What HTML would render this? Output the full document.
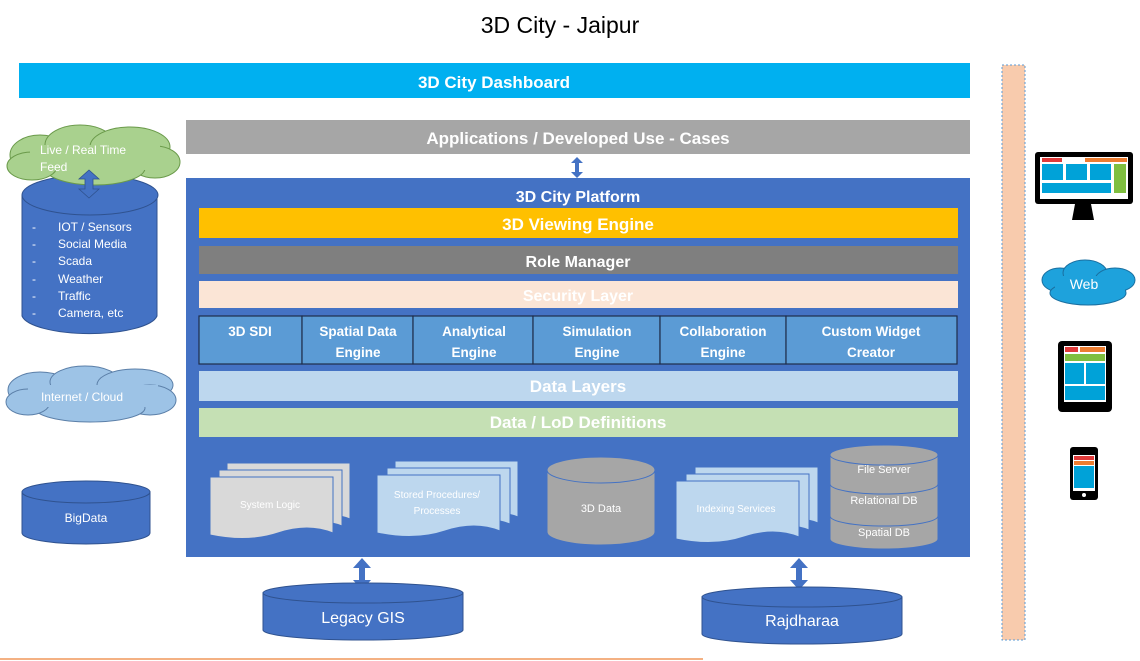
<!DOCTYPE html>
<html><head><meta charset="utf-8"><style>
html,body{margin:0;padding:0;background:#fff;width:1140px;height:661px;overflow:hidden}
svg{display:block;font-family:"Liberation Sans",sans-serif}
.b{font-weight:bold;fill:#fff}
.w{fill:#fff}
</style></head><body>
<svg width="1140" height="661" viewBox="0 0 1140 661">
<text x="560" y="33" text-anchor="middle" font-size="23" fill="#000">3D City - Jaipur</text>

<rect x="19" y="63" width="951" height="35" fill="#00b0f0"/>
<text x="494" y="88" text-anchor="middle" font-size="17" class="b">3D City Dashboard</text>

<rect x="186" y="120" width="784" height="34" fill="#a6a6a6"/>
<text x="578" y="144" text-anchor="middle" font-size="17" class="b">Applications / Developed Use - Cases</text>

<path d="M577,157l6,6h-4v9h4l-6,6l-6,-6h4v-9h-4z" fill="#4472c4"/>

<rect x="186" y="178" width="784" height="379" fill="#4472c4"/>
<text x="578" y="202" text-anchor="middle" font-size="16" class="b">3D City Platform</text>
<rect x="199" y="208" width="759" height="30" fill="#ffc000"/>
<text x="578" y="230" text-anchor="middle" font-size="17" class="b">3D Viewing Engine</text>
<rect x="199" y="246" width="759" height="28" fill="#7f7f7f"/>
<text x="578" y="267" text-anchor="middle" font-size="16" class="b">Role Manager</text>
<rect x="199" y="281" width="759" height="27" fill="#fbe5d6"/>
<text x="578" y="301" text-anchor="middle" font-size="16" class="b">Security Layer</text>

<g stroke="#1f2d4a" stroke-width="1.2" fill="#5b9bd5">
<rect x="199" y="316" width="103" height="48"/>
<rect x="302" y="316" width="111" height="48"/>
<rect x="413" y="316" width="120" height="48"/>
<rect x="533" y="316" width="127" height="48"/>
<rect x="660" y="316" width="126" height="48"/>
<rect x="786" y="316" width="171" height="48"/>
</g>
<g font-size="13.5" class="b" text-anchor="middle">
<text x="250" y="336">3D SDI</text>
<text x="358" y="336">Spatial Data</text><text x="358" y="357">Engine</text>
<text x="474" y="336">Analytical</text><text x="474" y="357">Engine</text>
<text x="597" y="336">Simulation</text><text x="597" y="357">Engine</text>
<text x="723" y="336">Collaboration</text><text x="723" y="357">Engine</text>
<text x="871" y="336">Custom Widget</text><text x="871" y="357">Creator</text>
</g>
<rect x="199" y="371" width="759" height="30" fill="#bdd7ee"/>
<text x="578" y="392" text-anchor="middle" font-size="17" class="b">Data Layers</text>
<rect x="199" y="408" width="759" height="29" fill="#c5e0b4"/>
<text x="578" y="428" text-anchor="middle" font-size="17" class="b">Data / LoD Definitions</text>

<g stroke="#4472c4" stroke-width="1">
<g fill="#d9d9d9">
<path d="M227,463h123v56q-20,-8 -40,0t-83,0z"/>
<path d="M219,470h123v56q-20,-8 -40,0t-83,0z"/>
<path d="M210,477h123v56q-25,-10 -55,0t-68,2z"/>
</g>
<g fill="#bdd7ee">
<path d="M395,461h123v56q-20,-8 -40,0t-83,0z"/>
<path d="M387,468h123v56q-20,-8 -40,0t-83,0z"/>
<path d="M377,475h123v56q-25,-10 -55,0t-68,2z"/>
</g>
<g fill="#bdd7ee">
<path d="M695,467h123v56q-20,-8 -40,0t-83,0z"/>
<path d="M686,474h123v56q-20,-8 -40,0t-83,0z"/>
<path d="M676,481h123v56q-25,-10 -55,0t-68,2z"/>
</g>
</g>
<g font-size="10" class="w" text-anchor="middle">
<text x="270" y="508">System Logic</text>
<text x="437" y="498">Stored Procedures/</text><text x="437" y="514">Processes</text>
<text x="736" y="512">Indexing Services</text>
</g>

<g stroke="#4472c4" stroke-width="1">
<path d="M547,470v62a54,13 0 0 0 108,0v-62z" fill="#a6a6a6"/>
<ellipse cx="601" cy="470" rx="54" ry="13" fill="#a6a6a6"/>
</g>
<text x="601" y="512" text-anchor="middle" font-size="11" class="w">3D Data</text>

<g stroke="#4472c4" stroke-width="1" fill="#a6a6a6">
<path d="M830,516v23a54,10 0 0 0 108,0v-23z"/>
<path d="M830,484v32a54,10 0 0 0 108,0v-32z"/>
<path d="M830,455v29a54,10 0 0 0 108,0v-29z"/>
<ellipse cx="884" cy="455" rx="54" ry="10"/>
</g>
<g font-size="11" class="w" text-anchor="middle">
<text x="884" y="473">File Server</text>
<text x="884" y="504">Relational DB</text>
<text x="884" y="536">Spatial DB</text>
</g>

<path d="M362,558l9,10h-6v12h6l-9,10l-9,-10h6v-12h-6z" fill="#4472c4"/>
<path d="M799,558l9,10h-6v12h6l-9,10l-9,-10h6v-12h-6z" fill="#4472c4"/>
<g stroke="#2f528f" stroke-width="1" fill="#4472c4">
<path d="M263,593v37a100,10 0 0 0 200,0v-37z"/>
<ellipse cx="363" cy="593" rx="100" ry="10"/>
<path d="M702,597v37a100,10 0 0 0 200,0v-37z"/>
<ellipse cx="802" cy="597" rx="100" ry="10"/>
</g>
<text x="363" y="623" text-anchor="middle" font-size="16" class="w">Legacy GIS</text>
<text x="802" y="626" text-anchor="middle" font-size="16" class="w">Rajdharaa</text>
<rect x="0" y="658" width="703" height="2" fill="#f4b183"/>

<g stroke="#2f528f" stroke-width="1" fill="#4472c4">
<path d="M22,195v121a68,20 0 0 0 135,0v-121z"/>
<ellipse cx="90" cy="195" rx="68" ry="20"/>
<path d="M22,492v41a64,11 0 0 0 128,0v-41z"/>
<ellipse cx="86" cy="492" rx="64" ry="11"/>
</g>
<g fill="#a9d18e" stroke="#6a9a4a" stroke-width="1">
<ellipse cx="40" cy="155" rx="30" ry="20"/>
<ellipse cx="80" cy="145" rx="35" ry="20"/>
<ellipse cx="130" cy="147" rx="40" ry="20"/>
<ellipse cx="155" cy="162" rx="25" ry="16"/>
<ellipse cx="95" cy="168" rx="50" ry="17"/>
<ellipse cx="32" cy="166" rx="25" ry="14"/>
</g>
<rect x="30" y="145" width="130" height="25" fill="#a9d18e"/>
<text x="40" y="154" font-size="12" class="w">Live / Real Time</text>
<text x="40" y="171" font-size="12" class="w">Feed</text>
<path d="M89,170l10,9h-6v10h6l-10,9l-10,-9h6v-10h-6z" fill="#4472c4" stroke="#2f528f" stroke-width="0.8"/>
<g font-size="12" class="w">
<text x="32" y="231">-</text><text x="58" y="231">IOT / Sensors</text>
<text x="32" y="248">-</text><text x="58" y="248">Social Media</text>
<text x="32" y="265">-</text><text x="58" y="265">Scada</text>
<text x="32" y="283">-</text><text x="58" y="283">Weather</text>
<text x="32" y="300">-</text><text x="58" y="300">Traffic</text>
<text x="32" y="317">-</text><text x="58" y="317">Camera, etc</text>
</g>
<g fill="#9dc3e6" stroke="#5b7fa8" stroke-width="1">
<ellipse cx="40" cy="390" rx="32" ry="18"/>
<ellipse cx="85" cy="382" rx="35" ry="16"/>
<ellipse cx="135" cy="385" rx="38" ry="16"/>
<ellipse cx="150" cy="400" rx="26" ry="15"/>
<ellipse cx="90" cy="408" rx="55" ry="14"/>
<ellipse cx="28" cy="402" rx="22" ry="13"/>
</g>
<rect x="28" y="385" width="130" height="22" fill="#9dc3e6"/>
<text x="82" y="401" text-anchor="middle" font-size="12" class="w">Internet / Cloud</text>
<text x="86" y="522" text-anchor="middle" font-size="12" class="w">BigData</text>

<rect x="1002" y="65" width="23" height="575" fill="#f8cbad" stroke="#5b9bd5" stroke-dasharray="2,2" stroke-width="1"/>

<rect x="1035" y="152" width="98" height="52" rx="3" fill="#000"/>
<rect x="1040" y="157" width="88" height="42" fill="#fff"/>
<rect x="1042" y="158" width="20" height="4" fill="#e03a3a"/>
<rect x="1085" y="158" width="42" height="4" fill="#ed7d31"/>
<rect x="1042" y="164" width="21" height="16" fill="#00a2d8"/>
<rect x="1066" y="164" width="21" height="16" fill="#00a2d8"/>
<rect x="1090" y="164" width="21" height="16" fill="#00a2d8"/>
<rect x="1114" y="164" width="12" height="29" fill="#7fbf3f"/>
<rect x="1042" y="183" width="69" height="10" fill="#00a2d8"/>
<path d="M1075,204h16l3,16h-22z" fill="#000"/>
<g fill="#1ea2dc" stroke="#1a6fa0" stroke-width="1">
<ellipse cx="1060" cy="280" rx="18" ry="12"/>
<ellipse cx="1085" cy="273" rx="22" ry="13"/>
<ellipse cx="1115" cy="280" rx="20" ry="12"/>
<ellipse cx="1088" cy="293" rx="38" ry="12"/>
</g>
<rect x="1055" y="276" width="70" height="16" fill="#1ea2dc"/>
<text x="1084" y="289" text-anchor="middle" font-size="14" class="w">Web</text>
<rect x="1058" y="341" width="54" height="71" rx="4" fill="#000"/>
<rect x="1064" y="346" width="42" height="56" fill="#fff"/>
<rect x="1065" y="347" width="13" height="5" fill="#e03a3a"/>
<rect x="1080" y="347" width="25" height="5" fill="#ed7d31"/>
<rect x="1065" y="354" width="40" height="7" fill="#7fbf3f"/>
<rect x="1065" y="363" width="19" height="21" fill="#00a2d8"/>
<rect x="1086" y="363" width="19" height="21" fill="#00a2d8"/>
<rect x="1065" y="386" width="40" height="14" fill="#00a2d8"/>
<rect x="1070" y="447" width="28" height="53" rx="3" fill="#000"/>
<rect x="1073" y="455" width="22" height="36" fill="#fff"/>
<rect x="1074" y="456" width="20" height="4" fill="#e03a3a"/>
<rect x="1074" y="461" width="20" height="4" fill="#ed7d31"/>
<rect x="1074" y="466" width="20" height="22" fill="#00a2d8"/>
<circle cx="1084" cy="495" r="2" fill="#fff"/>
</svg>
</body></html>
